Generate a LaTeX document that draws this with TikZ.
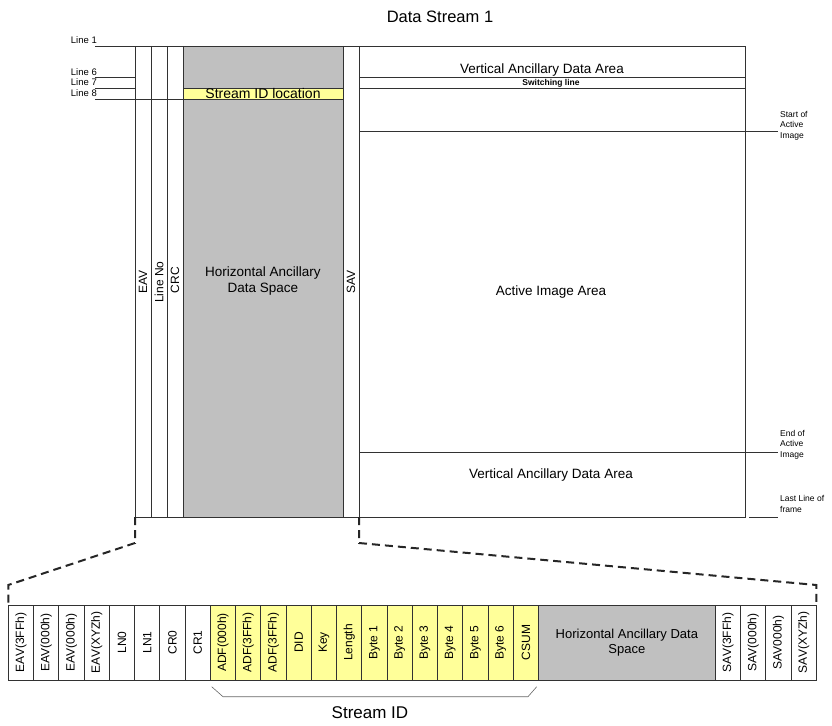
\documentclass[tikz,border=0pt]{standalone}
\usepackage{fontspec}
\setmainfont{Liberation Sans}
\usepackage{xcolor}

\definecolor{lineg}{RGB}{50,50,50}
\definecolor{hgray}{RGB}{192,192,192}
\definecolor{idyel}{RGB}{255,255,153}

\begin{document}
\begin{tikzpicture}[x=1pt,y=-1pt]
	\tikzstyle{frame}=[draw=lineg, line width=0.8pt]
	\tikzstyle{cell}=[draw=lineg, line width=0.8pt, rotate=90, minimum width=75pt, minimum height=25.25pt, inner sep=0pt, font=\fontsize{12}{13}\selectfont]
	\tikzstyle{lbl}=[inner sep=0pt, font=\fontsize{13.5}{15.5}\selectfont]
	\tikzstyle{collbl}=[inner sep=0pt, rotate=90, font=\fontsize{12}{13}\selectfont]
	\tikzstyle{linelbl}=[inner sep=0pt, anchor=base east, font=\fontsize{9.5}{10}\selectfont]
	\tikzstyle{side}=[inner sep=0pt, align=left, anchor=north west, font=\fontsize{8.5}{10.5}\selectfont]
	\tikzstyle{zoomline}=[line width=2pt, dash pattern=on 8pt off 5pt, black!85]

	\useasboundingbox (0,0) rectangle (832,725);

	% Title
	\node[font=\fontsize{16.5}{18}\selectfont] (title) at (440,17) {Data Stream 1};

	% Frame
	\fill[hgray] (183,46) rectangle (343,517);
	\fill[idyel] (183,88.3) rectangle (343,99);
	\draw[frame] (95,46) -- (745,46) -- (745,517) -- (135,517) -- (135,46);
	\foreach \x in {151,167,183,343,359}
	\draw[frame] (\x,46) -- (\x,517);

	% Lines
	\draw[frame] (95,77.7) -- (135,77.7);
	\draw[frame] (95,88.3) -- (135,88.3);
	\draw[frame] (95,99) -- (343,99);
	\draw[frame] (183,88.3) -- (343,88.3);
	\draw[frame] (359,77.7) -- (745,77.7);
	\draw[frame] (359,88.3) -- (745,88.3);
	\draw[frame] (359,131.5) -- (778,131.5);
	\draw[frame] (359,452.5) -- (778,452.5);
	\draw[frame] (749,517) -- (778,517);

	\foreach \y/\n in {46/1,77.7/6,88.3/7,99/8}
	\node[linelbl] (line_\n) at (97,\y-2.5) {Line \n};

	% Labels
	\node[collbl] (eav) at (143,282) {EAV};
	\node[collbl] (lineno) at (159,282) {Line No};
	\node[collbl] (crc) at (175,280) {CRC};
	\node[collbl] (sav) at (351,282) {SAV};
	\node[lbl, align=center] (hanc_top) at (263,281) {Horizontal Ancillary\\Data Space};
	\node[lbl, font=\fontsize{14}{16}\selectfont] (sid_loc) at (263,93.8) {Stream ID location};
	\node[lbl] (vanc_top) at (542,70.5) {Vertical Ancillary Data Area};
	\node[inner sep=0pt, font=\bfseries\fontsize{8.5}{10}\selectfont] (switch) at (551,83.5) {Switching line};
	\node[lbl] (active) at (551,292) {Active Image Area};
	\node[lbl] (vanc_bot) at (551,475) {Vertical Ancillary Data Area};

	\node[side] (start) at (780,111) {Start of\\Active\\Image};
	\node[side] (end) at (780,430) {End of\\Active\\Image};
	\node[side] (last) at (780,495.5) {Last Line of\\frame};

	% Row
	\foreach \t [count=\i] in {EAV(3FFh),EAV(000h),EAV(000h),EAV(XYZh),LN0,LN1,CR0,CR1}
	\node[cell] (cell_\i) at ({8.3+25.25*(\i-0.5)},642.5) {\t};
	\foreach \t [count=\i from 9] in {ADF(000h),ADF(3FFh),ADF(3FFh),DID,Key,Length,Byte 1,Byte 2,Byte 3,Byte 4,Byte 5,Byte 6,CSUM}
	\node[cell, fill=idyel] (cell_\i) at ({8.3+25.25*(\i-0.5)},642.5) {\t};
	\node[draw=lineg, line width=0.8pt, fill=hgray, minimum width=176.75pt, minimum height=75pt, inner sep=0pt, align=center, font=\fontsize{13}{14.5}\selectfont] (hanc) at (626.9,642.5) {Horizontal Ancillary Data\\Space};
	\foreach \t [count=\i from 29] in {SAV(3FFh),SAV(000h),SAV000h),SAV(XYZh)}
	\node[cell] (cell_\i) at ({8.3+25.25*(\i-0.5)},642.5) {\t};

	% Zoom
	\coordinate (eav_bot) at (135,517);
	\coordinate (sav_bot) at (359,517);
	\coordinate (row_l) at (8.3,605);
	\coordinate (row_r) at (816.3,605);
	\draw[zoomline] (eav_bot) -- ++(0,26) -- ([yshift=20pt]row_l) -- (row_l);
	\draw[zoomline] (sav_bot) -- ++(0,26) -- ([yshift=20pt]row_r) -- (row_r);

	% Stream ID
	\coordinate (br_l) at (211.7,686.7);
	\coordinate (br_r) at (536.7,686.7);
	\draw[black!60, line width=0.6pt] (br_l) -- ++(11.3,10) -- ([xshift=-8.7pt,yshift=-10pt]br_r) -- (br_r);
	\node[font=\fontsize{17}{19}\selectfont] (streamid) at (370,713) {Stream ID};

\end{tikzpicture}
\end{document}
